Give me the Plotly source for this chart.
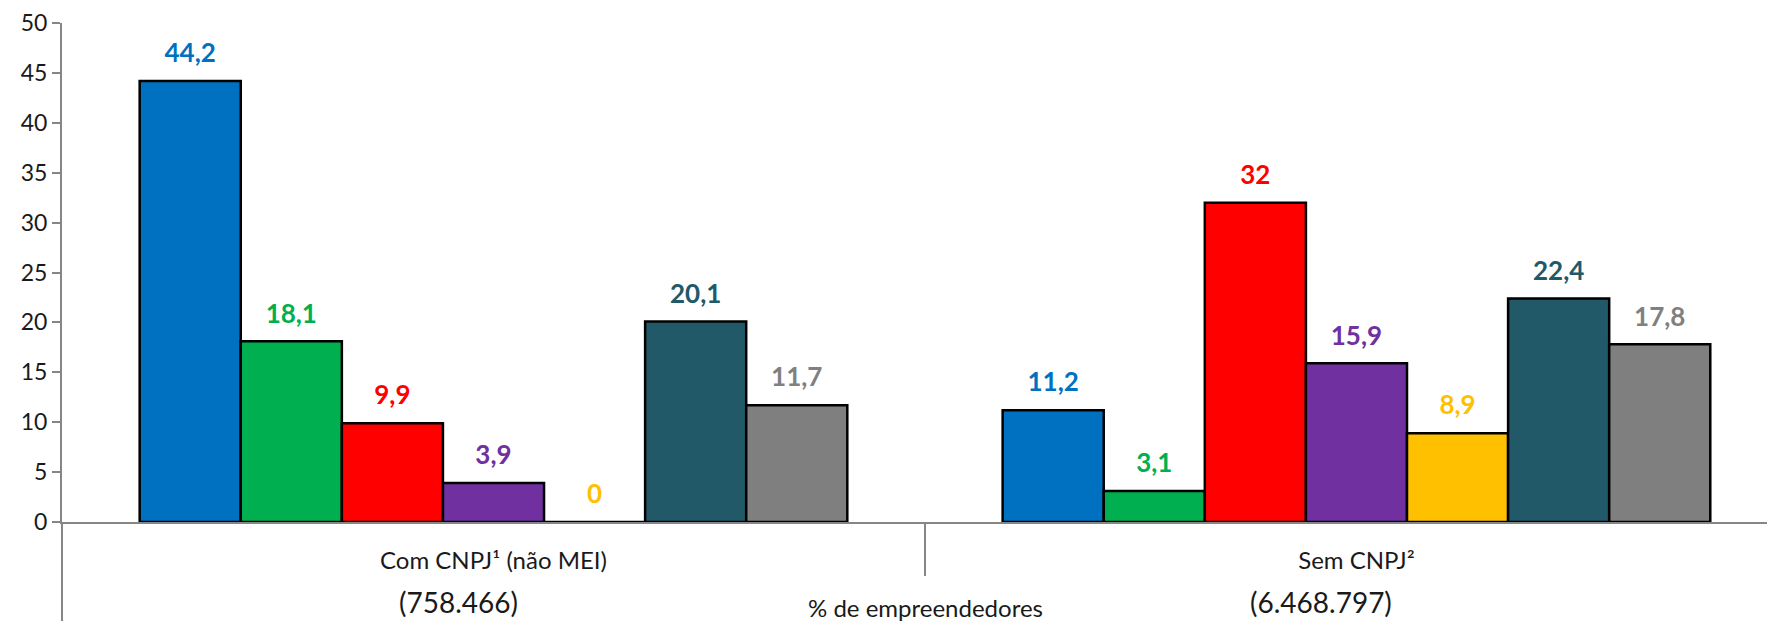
import plotly.graph_objects as go

# categorias e séries (% de empreendedores)
categorias = ['Com CNPJ¹ (não MEI)', 'Sem CNPJ²']
totais = ['(758.466)', '(6.468.797)']
series = ['s1', 's2', 's3', 's4', 's5', 's6', 's7']
valores = [
    [44.2, 11.2],
    [18.1, 3.1],
    [9.9, 32.0],
    [3.9, 15.9],
    [0.0, 8.9],
    [20.1, 22.4],
    [11.7, 17.8],
]
cores = ['#0070C0', '#00B050', '#FF0000', '#7030A0', '#FFC000', '#215968', '#7F7F7F']
cores_texto = ['#0070C0', '#00B050', '#FF0000', '#7030A0', '#FFC000', '#215968', '#808080']
y_ticks = list(range(0, 55, 5))

fonte = 'Lato'
gap = 0.18

fig = go.Figure()
for nome, vals, cor in zip(series, valores, cores):
    fig.add_trace(go.Bar(x=categorias, y=vals, name=nome,
                         marker=dict(color=cor, line=dict(color='black', width=2.5))))

# rótulos de dados acima das barras
for nome, vals, cor in zip(series, valores, cores_texto):
    fig.add_trace(go.Scatter(x=categorias, y=vals, name=nome + '_t',
                             mode='markers+text',
                             text=[f'{v:g}'.replace('.', ',') for v in vals],
                             textposition='top center',
                             textfont=dict(family=fonte, size=26, color=cor, weight='bold'),
                             marker=dict(size=18, opacity=0),
                             hoverinfo='skip', cliponaxis=False))

for cat, tot in zip(categorias, totais):
    fig.add_annotation(x=cat, xref='x', y=-0.16, yref='paper', text=tot, xshift=-35,
                       showarrow=False, font=dict(family=fonte, size=28, color='#1a1a1a'),
                       yanchor='middle')

fig.add_annotation(x=0.504, xref='paper', y=-0.171, yref='paper', text='% de empreendedores',
                   showarrow=False, font=dict(family=fonte, size=24, color='#1a1a1a'),
                   yanchor='middle')

fig.add_shape(type='line', xref='paper', yref='paper', x0=0, x1=0, y0=0, y1=-0.2,
              line=dict(color='#868686', width=2))

# a página tem 8px de margem no body: figura um pouco menor que a janela
fig.update_layout(
    width=1767, height=613,
    margin=dict(l=54, r=0, t=15, b=99),
    plot_bgcolor='white', paper_bgcolor='white',
    barmode='group', bargap=gap, bargroupgap=0,
    scattermode='group', scattergap=gap,
    showlegend=False,
    font=dict(family=fonte, color='#1a1a1a'),
    xaxis=dict(range=[-0.5, 1.485], showline=True, linecolor='#868686', linewidth=2,
               ticks='outside', tickson='boundaries', ticklen=52, tickcolor='#868686',
               tickwidth=2, ticklabelstandoff=16, tickfont=dict(size=24),
               automargin=False),
    yaxis=dict(range=[0, 50], tickvals=y_ticks, showline=True, linecolor='#868686',
               linewidth=2, ticks='outside', ticklen=8, tickcolor='#868686', tickwidth=2,
               showgrid=False, zeroline=False, automargin=False,
               ticklabeloverflow='allow', tickfont=dict(size=23)),
)

fig.write_html('out.html')
